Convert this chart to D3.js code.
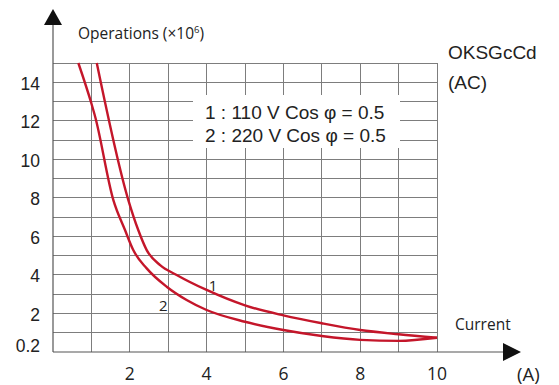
<!DOCTYPE html>
<html>
<head>
<meta charset="utf-8">
<script src="https://cdn.jsdelivr.net/npm/d3@7"></script>
<style>
  html, body { margin: 0; padding: 0; background: #fff; }
  svg { display: block; }
</style>
</head>
<body>
<svg id="chart" width="559" height="385"></svg>
<script>
// ---- data ----
const xTickValues = [2, 4, 6, 8, 10];
const yTickValues = [0.2, 2, 4, 6, 8, 10, 12, 14];
const yTickLabels = ["0.2", "2", "4", "6", "8", "10", "12", "14"];
const xGridValues = [1, 2, 3, 4, 5, 6, 7, 8, 9, 10];
const yGridValues = [1, 2, 3, 4, 5, 6, 7, 8, 9, 10, 11, 12, 13, 14, 15];

// curve 1 : 110 V Cos φ = 0.5  [current (A), operations (x10^6)]
const curve1 = [
  [1.14, 15], [1.96, 7.9], [2.22, 6.33], [2.44, 5.29], [2.79, 4.51],
  [3.22, 4.0], [4.0, 3.22], [5.0, 2.42], [6.0, 1.9], [7.0, 1.49], [8.0, 1.14],
  [9.0, 0.92], [10.0, 0.74]
];
// curve 2 : 220 V Cos φ = 0.5
const curve2 = [
  [0.66, 15], [1.0, 12.9], [1.1, 12.2], [1.57, 7.9], [1.875, 6.33], [2.09, 5.29],
  [2.44, 4.34], [2.96, 3.39], [3.48, 2.7], [4.0, 2.18], [5.0, 1.57], [6.0, 1.14],
  [7.0, 0.83], [8.0, 0.63], [9.0, 0.58], [10.0, 0.74]
];
const legendLines = ["1 : 110 V Cos φ = 0.5", "2 : 220 V Cos φ = 0.5"];
const curveLabels = [["1", 4.17, 3.5], ["2", 2.87, 2.45]];

// ---- drawing ----
const svg = d3.select("#chart");
const x = d3.scaleLinear().domain([0, 10]).range([53, 437]);
const y = d3.scaleLinear().domain([0, 15]).range([352, 63]);

const gridColor = "#7d7d7d";
const g = svg.append("g");

// grid
g.selectAll("line.vg").data(xGridValues).enter().append("line")
  .attr("x1", d => x(d)).attr("x2", d => x(d))
  .attr("y1", y(0)).attr("y2", y(15))
  .attr("stroke", gridColor).attr("stroke-width", 1).attr("shape-rendering", "crispEdges");
g.selectAll("line.hg").data(yGridValues).enter().append("line")
  .attr("x1", x(0)).attr("x2", x(10))
  .attr("y1", d => y(d)).attr("y2", d => y(d))
  .attr("stroke", gridColor).attr("stroke-width", 1).attr("shape-rendering", "crispEdges");

// legend box (white, covers grid)
svg.append("rect").attr("x", 193).attr("y", 95).attr("width", 207).attr("height", 53).attr("fill", "#fff");
svg.selectAll("text.leg").data(legendLines).enter().append("text")
  .attr("x", 205).attr("y", (d, i) => 119 + i * 23)
  .attr("font-family", "Liberation Sans, Arial, sans-serif").attr("font-size", 19)
  .attr("fill", "#222").text(d => d);

// axes
svg.append("line").attr("x1", x(0)).attr("x2", x(0)).attr("y1", 24).attr("y2", y(0))
  .attr("stroke", "#555").attr("stroke-width", 1.2);
svg.append("line").attr("x1", x(0)).attr("x2", 504).attr("y1", y(0)).attr("y2", y(0))
  .attr("stroke", "#555").attr("stroke-width", 1.2);
svg.append("path").attr("d", `M${x(0)},9 L${x(0) - 9},25 L${x(0) + 9},25 Z`).attr("fill", "#111");
svg.append("path").attr("d", `M521,${y(0)} L503,${y(0) - 9} L503,${y(0) + 9} Z`).attr("fill", "#111");

// curves
const line = d3.line().x(d => x(d[0])).y(d => y(d[1])).curve(d3.curveMonotoneX);
[curve1, curve2].forEach(c => {
  svg.append("path").datum(c).attr("d", line)
    .attr("fill", "none").attr("stroke", "#c4162a").attr("stroke-width", 2.4)
    .attr("stroke-linejoin", "round");
});

// curve labels
svg.selectAll("text.cl").data(curveLabels).enter().append("text")
  .attr("x", d => x(d[1])).attr("y", d => y(d[2]))
  .attr("text-anchor", "middle").attr("dominant-baseline", "central")
  .attr("font-family", "Open Sans, sans-serif").attr("font-size", 15)
  .attr("fill", "#222").text(d => d[0]);

// y tick labels
svg.selectAll("text.yt").data(yTickValues).enter().append("text")
  .attr("x", 40)
  .attr("y", d => d < 1 ? y(d) - 2.5 : y(d) + 1.5)
  .attr("text-anchor", "end").attr("dominant-baseline", "central")
  .attr("font-family", "Liberation Sans, Arial, sans-serif").attr("font-size", 17.5)
  .attr("fill", "#222").text((d, i) => yTickLabels[i]);

// x tick labels
svg.selectAll("text.xt").data(xTickValues).enter().append("text")
  .attr("x", d => x(d)).attr("y", 373)
  .attr("text-anchor", "middle").attr("dominant-baseline", "central")
  .attr("font-family", "Open Sans, sans-serif").attr("font-size", 17.5)
  .attr("fill", "#222").text(d => d);

// titles
const yt = svg.append("text").attr("x", 78).attr("y", 39)
  .attr("font-family", "Open Sans, sans-serif").attr("font-size", 15.5).attr("fill", "#222");
yt.append("tspan").text("Operations (×10");
yt.append("tspan").attr("font-size", 9.5).attr("dy", -6).text("6");
yt.append("tspan").attr("dy", 6).text(")");

svg.append("text").attr("x", 455).attr("y", 330)
  .attr("font-family", "Open Sans, sans-serif").attr("font-size", 15.5).attr("fill", "#222").text("Current");
svg.append("text").attr("x", 517).attr("y", 373).attr("dominant-baseline", "central")
  .attr("font-family", "Open Sans, sans-serif").attr("font-size", 18.5).attr("fill", "#222").text("(A)");

svg.append("text").attr("x", 448).attr("y", 59)
  .attr("font-family", "Liberation Sans, Arial, sans-serif").attr("font-size", 19).attr("fill", "#222").text("OKSGcCd");
svg.append("text").attr("x", 448).attr("y", 89)
  .attr("font-family", "Liberation Sans, Arial, sans-serif").attr("font-size", 19).attr("fill", "#222").text("(AC)");
</script>
</body>
</html>
